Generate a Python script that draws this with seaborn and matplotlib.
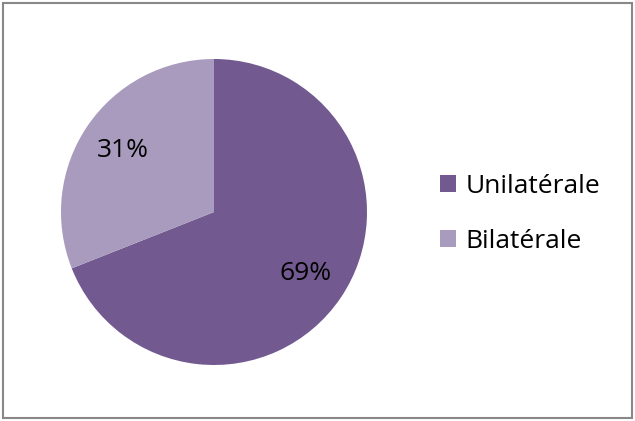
import seaborn as sns
import matplotlib.pyplot as plt
from matplotlib.patches import Rectangle

# Données
categories = ['Unilatérale', 'Bilatérale']
valeurs = [69, 31]
couleurs = ['#725990', '#A99BBD']

sns.set_style('white')
plt.rcParams['font.family'] = ['Open Sans', 'DejaVu Sans']
plt.rcParams['text.color'] = 'black'

fig = plt.figure(figsize=(6.35, 4.21), dpi=100)
ax = fig.add_axes([61 / 635, 56 / 421, 306 / 635, 306 / 421])

wedges, textes, pct = ax.pie(valeurs, colors=couleurs, startangle=90, counterclock=False,
                             autopct='%1.0f%%', pctdistance=0.72,
                             wedgeprops=dict(linewidth=0),
                             textprops=dict(fontsize=19, color='black'))
ax.set_xlim(-1, 1)
ax.set_ylim(-1, 1)
ax.set_aspect('equal')

leg = ax.legend(wedges, categories, loc='center left', bbox_to_anchor=(416 / 635, 1 - 214 / 421),
                bbox_transform=fig.transFigure, frameon=False, fontsize=19,
                handlelength=0.6, handleheight=0.6, handletextpad=0.38, labelspacing=1.15)
for t in leg.get_texts():
    t.set_color('black')

# cadre gris autour du graphique
fig.patches.append(Rectangle((3 / 635, 3 / 421), 629 / 635, 415 / 421, transform=fig.transFigure,
                             fill=False, edgecolor='#888888', linewidth=1.5))

fig.savefig('out.png', dpi=100)
